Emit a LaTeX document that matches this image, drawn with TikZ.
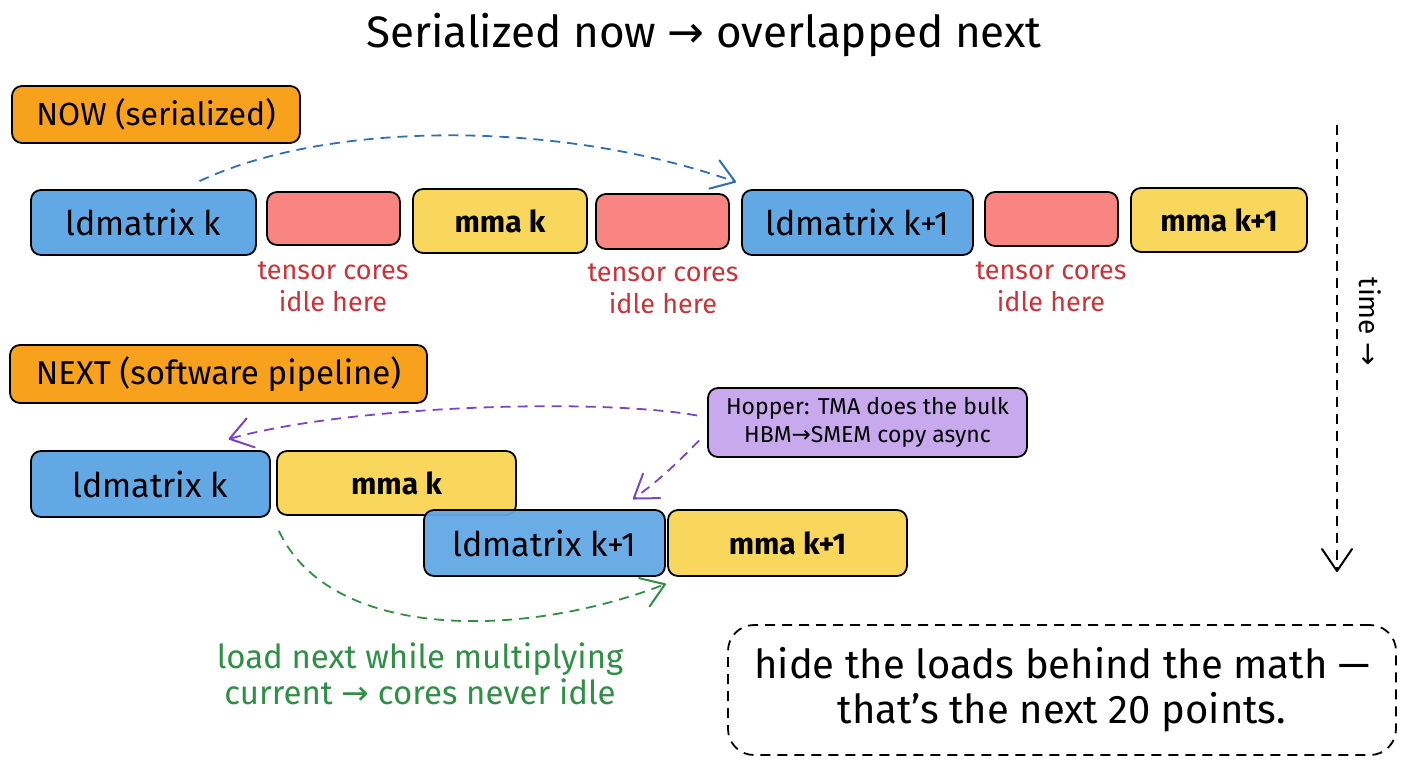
\documentclass[tikz,border=0pt]{standalone}
\usepackage{fontspec}
\setmainfont{Fira Sans}
\newfontfamily\symf{DejaVu Sans}
\usetikzlibrary{arrows.meta}
\definecolor{cOrange}{HTML}{F7A11C}
\definecolor{cBlue}{HTML}{62A8E5}
\definecolor{cRed}{HTML}{F88582}
\definecolor{cYellow}{HTML}{F8D75C}
\definecolor{cPurple}{HTML}{C9A9EE}
\definecolor{tRed}{HTML}{C7343A}
\definecolor{tGreen}{HTML}{2F8F45}
\definecolor{aBlue}{HTML}{2F6FB0}
\definecolor{aPurple}{HTML}{7A45C0}
\tikzset{
  x=1pt,y=-1pt,
  blk/.style={draw=black, line width=1.8pt, rounded corners=10pt, inner sep=0pt, align=center},
  lbl/.style={font=\fontsize{34}{40}\selectfont},
  mlbl/.style={font=\fontsize{30}{36}\selectfont\bfseries},
  redtxt/.style={text=tRed, align=center, font=\fontsize{27}{32}\selectfont},
  dashln/.style={dashed, dash pattern=on 10pt off 7pt, line width=1.8pt},
  tiparr/.style={-{Straight Barb[length=22pt,width=30pt,line width=2pt,round]}}
}
\begin{document}
\begin{tikzpicture}
\useasboundingbox (0,0) rectangle (1408,768);
% title
\node (title) at (704,35) {\fontsize{44}{50}\selectfont Serialized now {\symf →} overlapped next};
% NOW label
\node[blk, fill=cOrange, minimum width=288pt, minimum height=57pt, font=\fontsize{32}{36}\selectfont] (now) at (156,114.5) {NOW (serialized)};
% row 1
\node[blk, fill=cBlue, minimum width=225pt, minimum height=65pt, lbl] (r1a) at (143.5,222.5) {ldmatrix k};
\node[blk, fill=cRed, minimum width=133pt, minimum height=53pt] (r1b) at (333.5,218.5) {};
\node[blk, fill=cYellow, minimum width=174pt, minimum height=64pt, mlbl] (r1c) at (500,221) {mma k};
\node[blk, fill=cRed, minimum width=133pt, minimum height=55pt] (r1d) at (662.5,221.5) {};
\node[blk, fill=cBlue, minimum width=231pt, minimum height=65pt, lbl] (r1e) at (857.5,222.5) {ldmatrix k+1};
\node[blk, fill=cRed, minimum width=133pt, minimum height=54pt] (r1f) at (1051.5,219) {};
\node[blk, fill=cYellow, minimum width=176pt, minimum height=64pt, mlbl] (r1g) at (1219,220) {mma k+1};
\node[redtxt] (i1) at (333,287) {tensor cores\\idle here};
\node[redtxt] (i2) at (663,289) {tensor cores\\idle here};
\node[redtxt] (i3) at (1051,287) {tensor cores\\idle here};
\draw[dashln, tiparr, aBlue] ([xshift=56pt,yshift=8pt]r1a.north) .. controls (330,120) and (560,120) .. ([xshift=-5pt,yshift=7pt]r1e.north west);
% NEXT label
\node[blk, fill=cOrange, minimum width=417pt, minimum height=58pt, font=\fontsize{33}{38}\selectfont] (next) at (218.5,374) {NEXT (software pipeline)};
% row 2
\node[blk, fill=cBlue, minimum width=239pt, minimum height=66pt, lbl] (r2a) at (150.5,484) {ldmatrix k};
\node[blk, fill=cYellow, minimum width=239pt, minimum height=64pt, mlbl] (r2b) at (396.5,483) {mma k};
\node[blk, fill=cBlue, fill opacity=0.95, text opacity=1, minimum width=241pt, minimum height=66pt, lbl] (r2c) at (544.5,543) {ldmatrix k+1};
\node[blk, fill=cYellow, minimum width=239pt, minimum height=66pt, mlbl] (r2d) at (787.5,543) {mma k+1};
% purple note
\node[blk, fill=cPurple, minimum width=319pt, minimum height=69pt, font=\fontsize{23}{28}\selectfont] (pb) at (867.5,422.5) {Hopper: TMA does the bulk\\HBM{\symf →}SMEM copy async};
\draw[dashln, tiparr, aPurple] ([xshift=-10pt,yshift=7pt]pb.west) .. controls (600,398) and (350,405) .. ([xshift=78pt,yshift=11pt]r2a.north);
\draw[dashln, tiparr, aPurple] ([xshift=-8pt,yshift=-18pt]pb.west) .. controls (680,460) and (660,480) .. ([xshift=-33pt,yshift=10pt]r2c.north east);
% green
\draw[dashln, tiparr, tGreen] ([xshift=8pt,yshift=-13pt]r2a.south east) .. controls (330,640) and (520,640) .. ([yshift=-7pt]r2c.south east);
\node[text=tGreen, align=center, font=\fontsize{33}{36}\selectfont] (gtxt) at (420,674) {load next while multiplying\\current {\symf →} cores never idle};
% time axis
\coordinate (t1) at (1337,125);
\coordinate (t2) at (1337,572);
\draw[dashln, tiparr, black] (t1) -- (t2);
\node[rotate=-90, font=\fontsize{28}{32}\selectfont] (tl) at (1370,322) {time {\symf →}};
% bottom box
\node[draw=black, dashln, rounded corners=26pt, minimum width=668pt, minimum height=130pt, align=center, font=\fontsize{40}{45}\selectfont] (take) at (1062,690) {hide the loads behind the math ---\\that's the next 20 points.};
\end{tikzpicture}
\end{document}
